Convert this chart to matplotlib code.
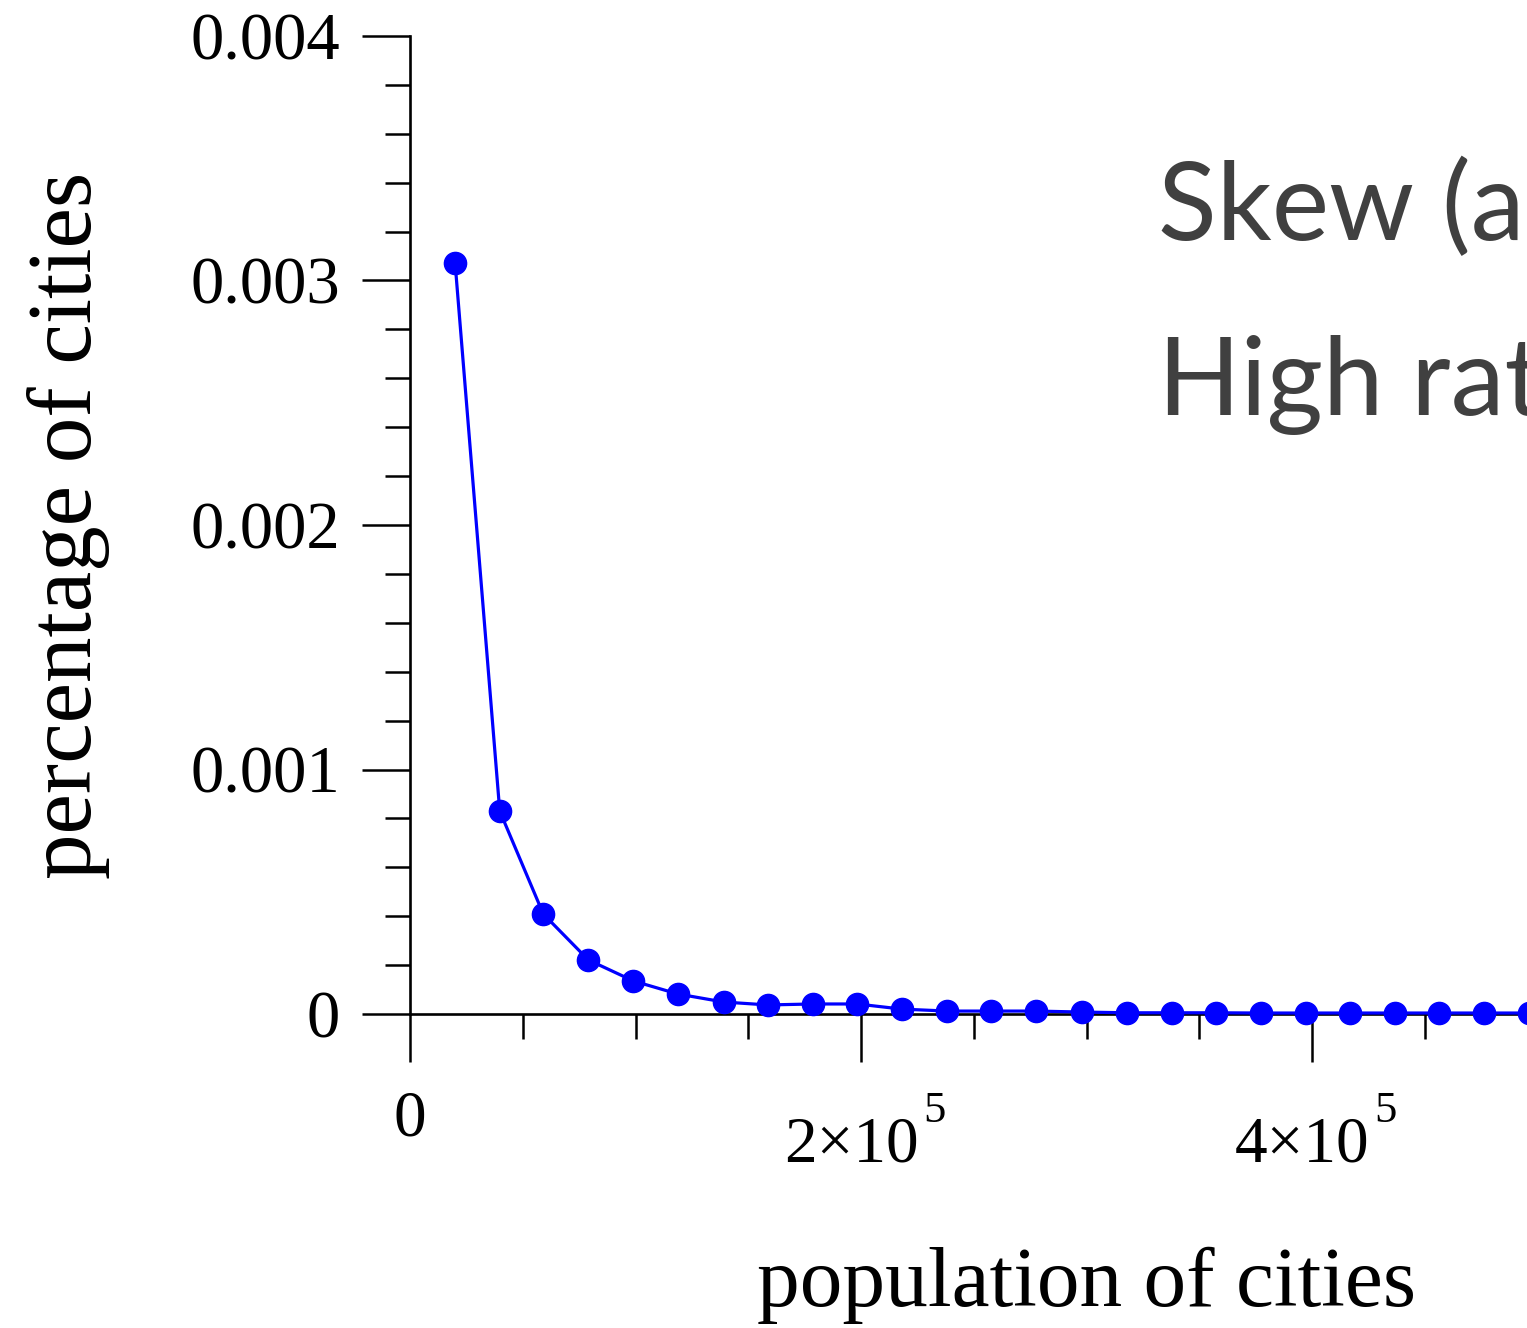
import numpy as np
import matplotlib
matplotlib.use("Agg")
import matplotlib.pyplot as plt
import matplotlib.transforms as mtransforms
from matplotlib.ticker import MultipleLocator, FixedLocator, FixedFormatter

# 都市人口の分布
population = [20000, 39800, 59100, 79100, 99100, 118700, 139100, 158700, 178700,
              198200, 218200, 238200, 257800, 277800, 297800, 317800, 337800,
              357300, 377300, 397300, 416900, 436900, 456400, 476400, 496400]
share = [0.003072, 0.000830, 0.000409, 0.000221, 0.000135, 0.000082, 0.000049,
         0.000037, 0.000041, 0.000041, 0.000020, 0.000012, 0.000012, 0.000012,
         0.000008, 0.000005, 0.000005, 0.000005, 0.000004, 0.000004, 0.000004,
         0.000004, 0.000004, 0.000004, 0.000004]

xticks = [0, 2e5, 4e5]
xtick_base = ["0", "2\u00d710", "4\u00d710"]
xtick_exp = ["", "5", "5"]
yticks = [0, 0.001, 0.002, 0.003, 0.004]
yticklabels = ["0", "0.001", "0.002", "0.003", "0.004"]

slide_lines = ["Skew (asymmetry)", "High ratio"]

plt.rcParams['font.family'] = ['Liberation Serif', 'DejaVu Serif']

W, H = 1527, 1328
fig = plt.figure(figsize=(W / 100, H / 100), dpi=100)
ax = fig.add_axes([410 / W, 1 - 1014 / H, (1763 - 410) / W, (1014 - 36) / H])

ax.plot(population, share, color='#0000ff', linewidth=2.3, marker='o',
        markersize=16, clip_on=False, zorder=3)

ax.set_xlim(0, 6e5)
ax.set_ylim(0, 0.004)

ax.spines['top'].set_visible(False)
ax.spines['right'].set_visible(False)
for s in ['left', 'bottom']:
    ax.spines[s].set_linewidth(1.9)

ax.xaxis.set_major_locator(FixedLocator(xticks))
ax.xaxis.set_minor_locator(MultipleLocator(5e4))
ax.yaxis.set_major_locator(FixedLocator(yticks))
ax.yaxis.set_major_formatter(FixedFormatter(yticklabels))
ax.yaxis.set_minor_locator(MultipleLocator(0.0002))

ax.tick_params(which='major', direction='out', length=34.5, width=1.8,
               labelsize=48, pad=16)
ax.tick_params(which='minor', direction='out', length=18, width=1.8)
ax.tick_params(axis='x', labelbottom=False)

# x軸ラベル (10^5 の指数を高めに置く)
xtrans = ax.get_xaxis_transform()
for xv, base, ex in zip(xticks, xtick_base, xtick_exp):
    if ex:
        t1 = mtransforms.offset_copy(xtrans, fig=fig, x=-10, y=-148, units='dots')
        ax.text(xv, 0, base, transform=t1, fontsize=47, ha='center', va='baseline')
        t2 = mtransforms.offset_copy(xtrans, fig=fig, x=62, y=-108, units='dots')
        ax.text(xv, 0, ex, transform=t2, fontsize=32, ha='left', va='baseline')
    else:
        t1 = mtransforms.offset_copy(xtrans, fig=fig, x=0, y=-121, units='dots')
        ax.text(xv, 0, base, transform=t1, fontsize=47, ha='center', va='baseline')

ax.set_xlabel("population of cities", fontsize=61.5)
ax.set_ylabel("percentage of cities", fontsize=65.5)
ax.xaxis.set_label_coords(0.5, -0.238)
ax.yaxis.set_label_coords(-0.222, 0.5)

# スライドの本文 (右端で切れている)
fig.text(1158 / W, 1 - 240 / H, slide_lines[0], fontsize=78, color='#404040',
         family=['Lato', 'DejaVu Sans'], va='baseline', ha='left')
fig.text(1158 / W, 1 - 415 / H, slide_lines[1], fontsize=78, color='#404040',
         family=['Lato', 'DejaVu Sans'], va='baseline', ha='left')

plt.savefig("out.png", dpi=100)
